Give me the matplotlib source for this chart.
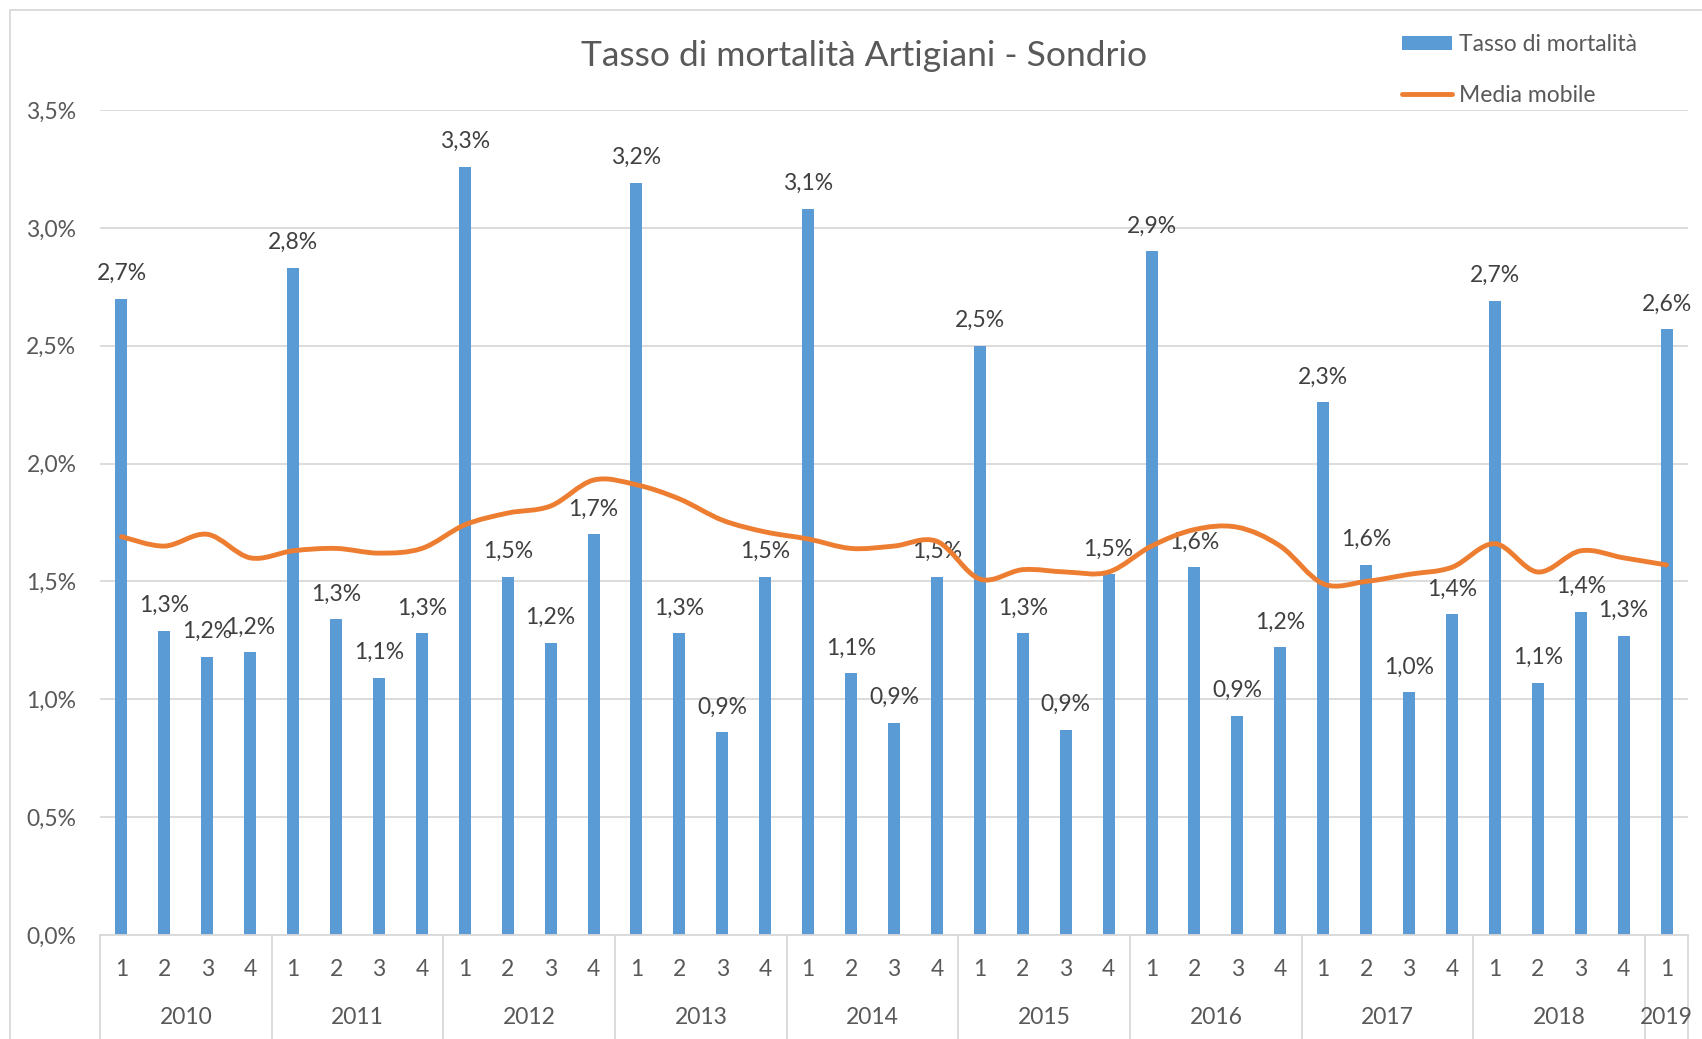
import numpy as np
import matplotlib
matplotlib.use('Agg')
import matplotlib.pyplot as plt
from matplotlib.path import Path
from matplotlib.patches import PathPatch
from matplotlib.lines import Line2D

# dati trimestrali (valori in %)
anni = ['2010', '2011', '2012', '2013', '2014', '2015', '2016', '2017', '2018', '2019']
trimestri_per_anno = [4, 4, 4, 4, 4, 4, 4, 4, 4, 1]
trimestri = ['1', '2', '3', '4'] * 9 + ['1']

tasso = [2.70, 1.29, 1.18, 1.20,
         2.83, 1.34, 1.09, 1.28,
         3.26, 1.52, 1.24, 1.70,
         3.19, 1.28, 0.86, 1.52,
         3.08, 1.11, 0.90, 1.52,
         2.50, 1.28, 0.87, 1.53,
         2.90, 1.56, 0.93, 1.22,
         2.26, 1.57, 1.03, 1.36,
         2.69, 1.07, 1.37, 1.27,
         2.57]

media = [1.69, 1.65, 1.70, 1.60,
         1.63, 1.64, 1.62, 1.64,
         1.74, 1.79, 1.82, 1.93,
         1.91, 1.85, 1.76, 1.71,
         1.68, 1.64, 1.65, 1.67,
         1.51, 1.55, 1.54, 1.54,
         1.65, 1.72, 1.73, 1.65,
         1.49, 1.50, 1.53, 1.56,
         1.66, 1.54, 1.63, 1.60,
         1.57]

blu = '#5B9BD5'
arancio = '#ED7D31'
grigio = '#D9D9D9'
testo = '#595959'
fs = 16.5

plt.rcParams['font.family'] = ['Lato', 'DejaVu Sans']


def fmt(v):
    return '{:.1f}%'.format(v).replace('.', ',')


def linea_smussata(xs, ys):
    # curva di Bezier tipo Catmull-Rom che passa per tutti i punti
    pts = np.column_stack([xs, ys]).astype(float)
    n = len(pts)
    verts = [pts[0]]
    codes = [Path.MOVETO]
    for i in range(n - 1):
        p0 = pts[max(i - 1, 0)]
        p1 = pts[i]
        p2 = pts[i + 1]
        p3 = pts[min(i + 2, n - 1)]
        verts += [p1 + (p2 - p0) / 6, p2 - (p3 - p1) / 6, p2]
        codes += [Path.CURVE4] * 3
    return Path(verts, codes)


W, H = 1702, 1039
fig = plt.figure(figsize=(W / 100, H / 100), dpi=100)
ax = fig.add_axes([100 / W, 104 / H, 1588 / W, 825 / H])

x = np.arange(len(tasso))
barre = ax.bar(x, tasso, width=0.28, color=blu, zorder=2)
ax.add_patch(PathPatch(linea_smussata(x, media), fill=False, edgecolor=arancio,
                       lw=3.5, capstyle='round', joinstyle='round', zorder=3))

for xi, v in zip(x, tasso):
    ax.annotate(fmt(v), (xi, v), xytext=(0, 13.5), textcoords='offset points',
                ha='center', va='baseline', fontsize=fs, color='#404040', zorder=2.5)

ax.set_xlim(-0.5, len(tasso) - 0.5)
ax.set_ylim(0, 3.5)
yt = np.arange(0, 3.51, 0.5)
ax.set_yticks(yt)
ax.set_yticklabels([fmt(t) for t in yt])
ax.set_xticks([])
ax.tick_params(axis='y', length=0, labelsize=fs, labelcolor=testo, pad=17)
ax.grid(axis='y', color=grigio, lw=1.3, zorder=0)
for s in ['top', 'right', 'left']:
    ax.spines[s].set_visible(False)
ax.spines['bottom'].set_color(grigio)
ax.spines['bottom'].set_linewidth(1.3)

# etichette dell'asse a due livelli
tr = ax.get_xaxis_transform()
for xi, q in zip(x, trimestri):
    ax.text(xi, -0.042, q, transform=tr, ha='center', va='center',
            fontsize=fs, color=testo)
inizio = 0
confini = [-0.5]
for anno, n in zip(anni, trimestri_per_anno):
    ax.text(inizio + (n - 1) / 2, -0.1, anno, transform=tr, ha='center',
            va='center', fontsize=fs, color=testo)
    inizio += n
    confini.append(inizio - 0.5)
for b in confini:
    ax.plot([b, b], [0, -0.15], transform=tr, clip_on=False, color=grigio, lw=1.3)

# bordo del grafico
fig.add_artist(Line2D([10 / W, 10 / W], [0, 1 - 10 / H], color=grigio, lw=1.3))
fig.add_artist(Line2D([10 / W, 1], [1 - 10 / H, 1 - 10 / H], color=grigio, lw=1.3))

fig.text(864 / W, 1 - 56 / H, 'Tasso di mortalità Artigiani - Sondrio',
         ha='center', va='center', fontsize=25.5, color=testo)

maniglia = Line2D([], [], color=arancio, lw=3.5, solid_capstyle='round')
fig.legend([barre, maniglia], ['Tasso di mortalità', 'Media mobile'],
           loc='upper left', bbox_to_anchor=(1402 / W, 1 - 34 / H),
           frameon=False, fontsize=fs, labelcolor=testo, borderpad=0,
           borderaxespad=0, handlelength=2.2, handletextpad=0.3,
           handleheight=0.55, labelspacing=1.3)

fig.savefig('out.png', dpi=100)
